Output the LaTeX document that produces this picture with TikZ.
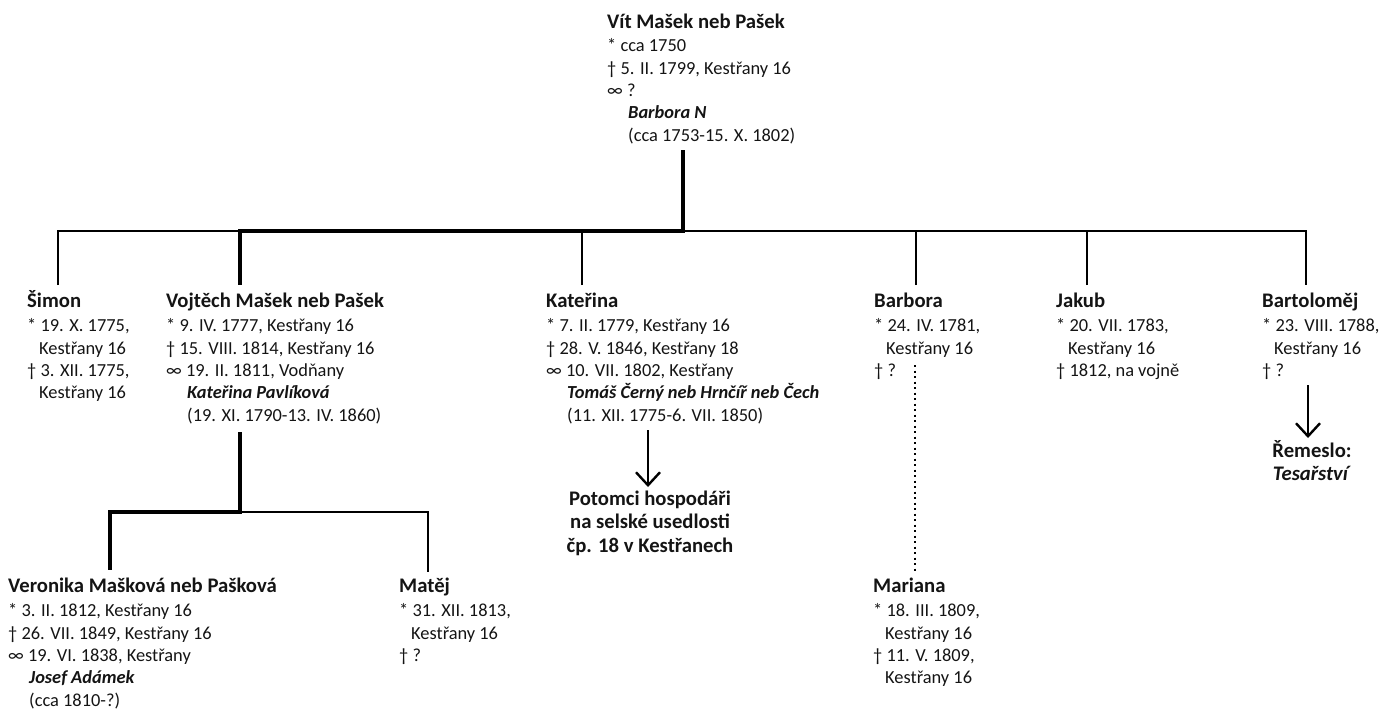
\documentclass[tikz,border=0pt]{standalone}
\usepackage{fontspec}
\setmainfont{Carlito}
\usetikzlibrary{arrows.meta}

\tikzset{
  person/.style={anchor=north west, align=left, inner sep=0pt, text=black!92,
    font=\fontsize{18.4}{22.4}\selectfont},
  outcome/.style={anchor=north, align=center, inner sep=0pt, text=black!92,
    font=\fontsize{20.7}{23.5}\selectfont\bfseries},
  famline/.style={line width=1.3pt},
  mainline/.style={line width=3.6pt},
  sideline/.style={line width=2pt, dash pattern=on 2pt off 3.5pt},
  descarrow/.style={line width=2.4pt, -{Straight Barb[length=13pt,width=24pt,line width=2.4pt]}}
}
% first line carries a 20pt strut, so a node placed at (x, baseline-20) sits right
\newcommand{\jmeno}[1]{{\rule{0pt}{20pt}\fontsize{20.7}{22.4}\selectfont\bfseries #1}}
\newcommand{\manzel}[1]{\hspace*{21pt}\textbf{\textit{#1}}}
\newcommand{\odsaz}{\hspace*{12pt}}

\begin{document}
\begin{tikzpicture}[x=1pt,y=-1pt]
    \useasboundingbox (0,0) rectangle (1380,713);

    % Vit and wife
    \node[person] (vit) at (607,8) {\jmeno{Vít Mašek neb Pašek}\\[1pt]
        * cca 1750\\ † 5. II. 1799, Kestřany 16\\ ∞ ?\\
        \manzel{Barbora N}\\ \hspace*{21pt}(cca 1753-15. X. 1802)};

    % children
    \node[person] (simon) at (27,287) {\jmeno{Šimon}\\[2pt]
        * 19. X. 1775,\\ \odsaz Kestřany 16\\ † 3. XII. 1775,\\ \odsaz Kestřany 16};
    \node[person] (vojtech) at (166,287) {\jmeno{Vojtěch Mašek neb Pašek}\\[2pt]
        * 9. IV. 1777, Kestřany 16\\ † 15. VIII. 1814, Kestřany 16\\
        ∞ 19. II. 1811, Vodňany\\ \manzel{Kateřina Pavlíková}\\
        \hspace*{21pt}(19. XI. 1790-13. IV. 1860)};
    \node[person] (katerina) at (546,287) {\jmeno{Kateřina}\\[2pt]
        * 7. II. 1779, Kestřany 16\\ † 28. V. 1846, Kestřany 18\\
        ∞ 10. VII. 1802, Kestřany\\ \manzel{Tomáš Černý neb Hrnčíř neb Čech}\\
        \hspace*{21pt}(11. XII. 1775-6. VII. 1850)};
    \node[person] (barbora) at (874,287) {\jmeno{Barbora}\\[2pt]
        * 24. IV. 1781,\\ \odsaz Kestřany 16\\ † ?};
    \node[person] (jakub) at (1056,287) {\jmeno{Jakub}\\[2pt]
        * 20. VII. 1783,\\ \odsaz Kestřany 16\\ † 1812, na vojně};
    \node[person] (bartolomej) at (1262,287) {\jmeno{Bartoloměj}\\[2pt]
        * 23. VIII. 1788,\\ \odsaz Kestřany 16\\ † ?};

    % grandchildren
    \node[person] (veronika) at (8,572) {\jmeno{Veronika Mašková neb Pašková}\\[2pt]
        * 3. II. 1812, Kestřany 16\\ † 26. VII. 1849, Kestřany 16\\
        ∞ 19. VI. 1838, Kestřany\\ \manzel{Josef Adámek}\\ \hspace*{21pt}(cca 1810-?)};
    \node[person] (matej) at (399,572) {\jmeno{Matěj}\\[2pt]
        * 31. XII. 1813,\\ \odsaz Kestřany 16\\ † ?};
    \node[person] (mariana) at (873,572) {\jmeno{Mariana}\\[2pt]
        * 18. III. 1809,\\ \odsaz Kestřany 16\\ † 11. V. 1809,\\ \odsaz Kestřany 16};

    % outcomes
    \node[outcome] (potomci) at (650,485) {\rule{0pt}{20pt}Potomci hospodáři\\ na selské usedlosti\\ čp. 18 v Kestřanech};
    \node[outcome] (remeslo) at (1312,437) {\rule{0pt}{20pt}Řemeslo:\\ \textit{Tesařství}};

    % drop points
    \coordinate (vitdrop) at (683,150);
    \coordinate (bus) at (683,231);
    \coordinate (simontop) at (58,285);
    \coordinate (vojtechtop) at (240,285);
    \coordinate (katerinatop) at (582,285);
    \coordinate (barboratop) at (916,285);
    \coordinate (jakubtop) at (1087,285);
    \coordinate (bartoltop) at (1306,285);
    \coordinate (vojtechdrop) at (240,432);
    \coordinate (kids) at (240,512);
    \coordinate (veronikatop) at (110,570);
    \coordinate (matejtop) at (428,572);
    \coordinate (barboradrop) at (915,365);
    \coordinate (marianatop) at (915,572);
    \coordinate (katerinaout) at (648,430);
    \coordinate (bartolout) at (1308,385);

    % family lines
    \draw[famline] (simontop) -- (simontop |- bus) -- (bartoltop |- bus) -- (bartoltop);
    \foreach \c in {katerinatop, barboratop, jakubtop}
        \draw[famline] (\c) -- (\c |- bus);
    \draw[mainline] (vitdrop) -- (bus) -- (vojtechtop |- bus) -- (vojtechtop);

    \draw[famline] (kids) -- (matejtop |- kids) -- (matejtop);
    \draw[mainline] (vojtechdrop) -- (kids) -- (veronikatop |- kids) -- (veronikatop);

    % illegitimate daughter
    \draw[sideline] (barboradrop) -- (marianatop);

    % arrows
    \draw[descarrow] (katerinaout) -- ([yshift=-2pt]katerinaout |- potomci.north);
    \draw[descarrow] (bartolout) -- ([yshift=-1pt]bartolout |- remeslo.north);
\end{tikzpicture}
\end{document}
